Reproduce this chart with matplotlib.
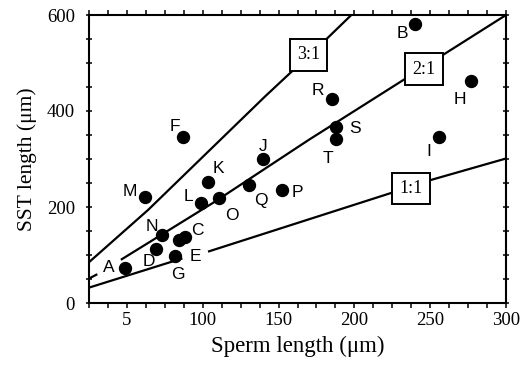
import matplotlib
matplotlib.use("Agg")
import matplotlib.pyplot as plt
from matplotlib.ticker import MultipleLocator, FixedLocator

# ---- data ----
labels = list("ABCDEFGHIJKLMNOPQRST")
sperm = [49, 240, 88.2, 69.5, 84.4, 87, 82, 277, 256, 139.7,
         103.5, 99, 62, 73, 111, 152, 130.5, 185, 188, 188]
sst = [72, 581, 137, 112, 131, 346, 98, 462, 346, 301,
       253, 208, 221, 142, 218, 235, 246, 426, 367, 341]

# ratio lines (vertices), segments split where labels sit
line31_segments = [([25, 64, 141, 181, 198], [85, 194, 430, 548, 600])]
line21_segments = [([25, 30.5], [51, 60]),
                   ([46, 108, 170, 234, 300], [90, 211, 340, 468, 600])]
line11_segments = [([25, 86.6], [32, 93]),
                   ([103.5, 225, 249, 300], [107, 230, 255, 301])]

ratio_names = ["3:1", "2:1", "1:1"]
ratio_box_x = [169.7, 245.8, 237.5]
ratio_box_y = [516.7, 487.5, 239]

x_ticks = [50, 100, 150, 200, 250, 300]
x_ticklabels = ["5", "100", "150", "200", "250", "300"]
y_ticks = [0, 200, 400, 600]
y_ticklabels = ["0", "200", "400", "600"]

# label offsets in pixels (dx, dy)
label_offsets = {
    "A": (-17, 1), "B": (-13, -9), "C": (13, 7), "D": (-8, -12),
    "E": (16, -16), "F": (-8, 10), "G": (2, -19), "H": (-11, -18),
    "I": (-10, -15), "J": (0, 12), "K": (10, 13), "L": (-13, 7),
    "M": (-15, 5), "N": (-10, 8), "O": (12, -17), "P": (16, -2),
    "Q": (12, -16), "R": (-14, 8), "S": (19, -2), "T": (-8, -19),
}

serif = "Liberation Serif"
sans = "Liberation Sans"

fig = plt.figure(figsize=(5.32, 3.66), dpi=100)
ax = fig.add_axes([89 / 532, 63 / 366, (506 - 89) / 532, (303 - 15) / 366])

for segs in (line31_segments, line21_segments, line11_segments):
    for xs, ys in segs:
        ax.plot(xs, ys, color="black", lw=1.6, solid_capstyle="butt", zorder=2)

ax.plot(sperm, sst, "o", color="black", ms=8.6, zorder=3, clip_on=False)

for lab, xv, yv in zip(labels, sperm, sst):
    dx, dy = label_offsets[lab]
    ax.annotate(lab, (xv, yv), xytext=(dx, dy), textcoords="offset pixels",
                ha="center", va="center", fontsize=12.5, family=sans, zorder=4)

for name, bx, by in zip(ratio_names, ratio_box_x, ratio_box_y):
    ax.text(bx, by, name, ha="center", va="center", fontsize=13, family=serif,
            zorder=5,
            bbox=dict(boxstyle="square,pad=0.4", fc="white", ec="black", lw=1.4))

ax.set_xlim(25, 300)
ax.set_ylim(0, 600)
ax.xaxis.set_major_locator(FixedLocator(x_ticks))
ax.set_xticklabels(x_ticklabels)
ax.xaxis.set_minor_locator(MultipleLocator(12.5))
ax.yaxis.set_major_locator(FixedLocator(y_ticks))
ax.set_yticklabels(y_ticklabels)
ax.yaxis.set_minor_locator(MultipleLocator(50))

for sp in ax.spines.values():
    sp.set_linewidth(1.5)

ax.tick_params(axis="both", which="both", top=True, right=True, width=1.1,
               direction="inout", length=4)
ax.tick_params(axis="x", which="both", direction="out", length=3.5, pad=3)
ax.tick_params(axis="y", which="major", pad=8)
for lbl in ax.get_xticklabels() + ax.get_yticklabels():
    lbl.set_fontfamily(serif)
    lbl.set_fontsize(13.5)

ax.set_xlabel("Sperm length (μm)", fontsize=16.5, family=serif, labelpad=5)
ax.set_ylabel("SST length (μm)", fontsize=15.5, family=serif, labelpad=7)

fig.savefig("out.png", dpi=100)
